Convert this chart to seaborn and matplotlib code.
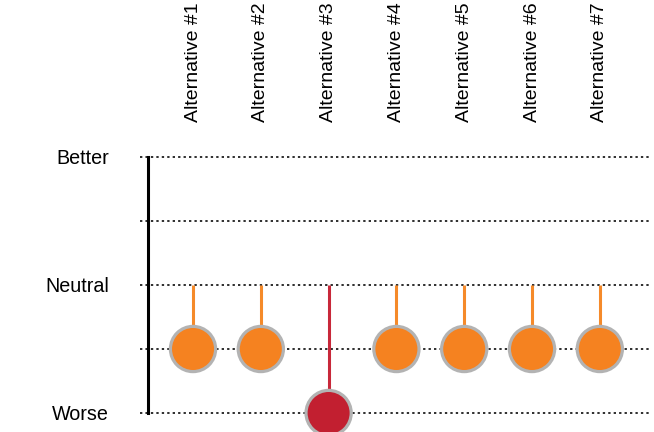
import matplotlib
matplotlib.use("Agg")
import matplotlib.pyplot as plt
import seaborn as sns
import pandas as pd

# Assessment of each alternative on a Worse..Better scale
alternatives = ["Alternative #1", "Alternative #2", "Alternative #3", "Alternative #4",
                "Alternative #5", "Alternative #6", "Alternative #7"]
scores = [1, 1, 0, 1, 1, 1, 1]
rating = ["Somewhat worse", "Somewhat worse", "Worse", "Somewhat worse",
          "Somewhat worse", "Somewhat worse", "Somewhat worse"]
level_ticks = [0, 1, 2, 3, 4]
level_labels = ["Worse", "", "Neutral", "", "Better"]
neutral = 2

palette = {"Somewhat worse": "#f58220", "Worse": "#c21f30"}
stem_palette = {"Somewhat worse": "#f58a2a", "Worse": "#c8283a"}

df = pd.DataFrame({"alt": alternatives, "score": scores, "rating": rating})
df["pos"] = range(len(df))

sns.set_theme(style="white")
plt.rcParams["font.family"] = ["Liberation Sans", "DejaVu Sans"]

fig = plt.figure(figsize=(6.54, 4.32), dpi=100)
W, H = 654, 432
ax = fig.add_axes([140 / W, 1 - 413 / H, (651 - 140) / W, (413 - 157) / H])

# stems from the neutral line down to each score
for _, r in df.iterrows():
    ax.vlines(r["pos"], r["score"], neutral, color=stem_palette[r["rating"]],
              linewidth=2.2, zorder=2, clip_on=False)

sns.scatterplot(data=df, x="pos", y="score", hue="rating", palette=palette,
                s=1060, edgecolor="#b3b3b3", linewidth=2.3, legend=False,
                zorder=3, clip_on=False, ax=ax)

ax.set_xlim(-0.782, 6.755)
ax.set_ylim(0, 4)

# dotted reference lines at every level
for y in level_ticks:
    ax.axhline(y, color="#2e2e2e", linewidth=1.4, linestyle=(0, (1.2, 1.6)),
               zorder=1, clip_on=False)

for side in ["top", "right", "bottom"]:
    ax.spines[side].set_visible(False)
ax.spines["left"].set_position(("data", -0.664))
ax.spines["left"].set_color("black")
ax.spines["left"].set_linewidth(2.2)
ax.spines["left"].set_bounds(0, 4)

ax.xaxis.tick_top()
ax.set_xticks(df["pos"])
ax.set_xticklabels(alternatives, rotation=90, fontsize=14, color="black")
ax.tick_params(axis="x", length=0, pad=25)
ax.set_yticks(level_ticks)
ax.set_yticklabels(level_labels, fontsize=14.2, color="black")
ax.tick_params(axis="y", length=0, pad=28)
for lbl in ax.get_yticklabels():
    lbl.set_fontweight("medium")
ax.set_xlabel("")
ax.set_ylabel("")
ax.grid(False)

fig.savefig("out.png", dpi=100)
